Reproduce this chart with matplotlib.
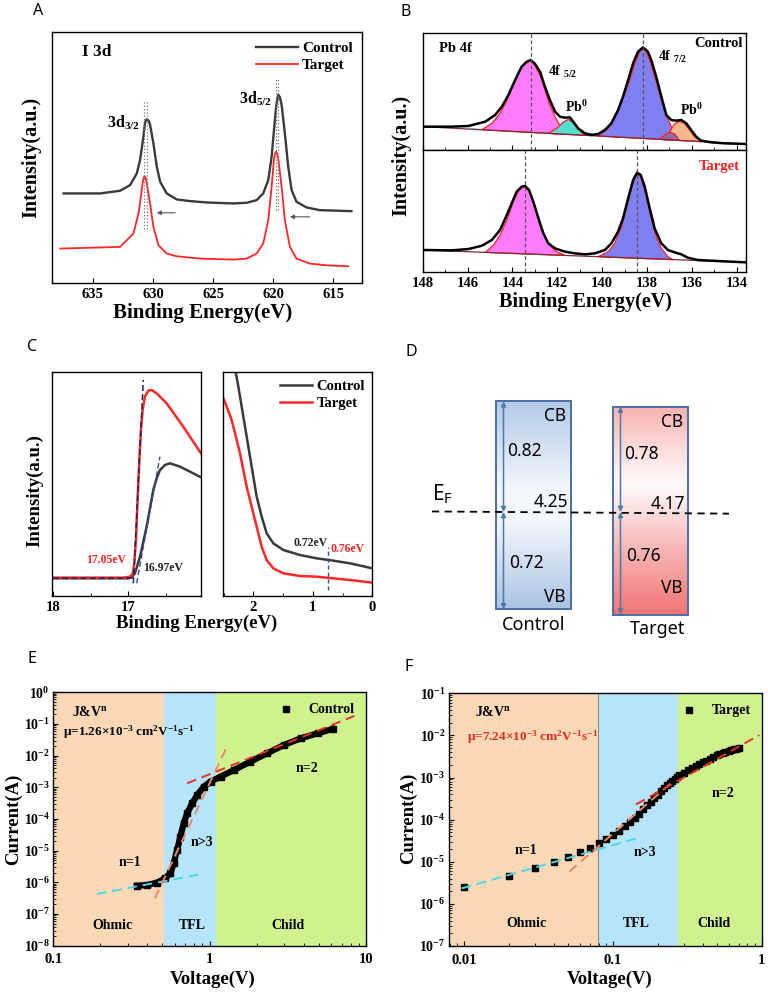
import numpy as np
import matplotlib
matplotlib.use("Agg")
import matplotlib.pyplot as plt
from matplotlib.colors import LinearSegmentedColormap
from matplotlib.patches import Rectangle
from matplotlib.ticker import NullFormatter, MultipleLocator, FixedLocator

# ---------------- A: I 3d XPS ----------------
a_ctrl_ev = [637.44, 634.39, 632.73, 631.90, 631.34, 631.07, 630.93, 630.79, 630.65, 630.51,
             630.37, 630.24, 629.96, 629.68, 629.40, 628.85, 628.02, 626.91, 625.53, 623.31,
             622.20, 621.37, 620.82, 620.40, 620.12, 619.85, 619.71, 619.57, 619.43, 619.29,
             619.02, 618.74, 618.46, 618.05, 617.22, 616.11, 613.48]
a_ctrl_int = [270, 270, 278, 295, 330, 370, 405, 440, 484, 492, 488, 476, 420, 350, 305, 270,
              252, 247, 243, 240, 242, 250, 270, 310, 380, 490, 540, 565, 558, 535, 450, 350,
              280, 245, 228, 220, 217]
a_tgt_ev = [637.71, 632.73, 631.62, 631.20, 630.93, 630.82, 630.71, 630.60, 630.51, 630.24,
            629.96, 629.54, 628.85, 628.02, 626.08, 623.31, 622.20, 621.37, 620.82, 620.40,
            620.12, 619.93, 619.85, 619.76, 619.68, 619.57, 619.29, 619.02, 618.60, 618.05,
            616.94, 615.55, 613.75]
a_tgt_int = [105, 110, 150, 210, 280, 310, 322, 316, 300, 240, 170, 115, 90, 82, 75, 72, 75,
             90, 120, 190, 290, 370, 388, 395, 390, 375, 290, 190, 110, 75, 60, 55, 52]
a_peak_ctrl = [630.51, 619.57]
a_peak_tgt = [630.71, 619.76]
a_mark_lo = [165, 220]
a_mark_hi = [550, 615]
a_shift_from = [628.16, 616.94]
a_shift_to = [629.68, 618.60]
a_shift_int = [212, 200]

# ---------------- B: Pb 4f XPS ----------------
b_ctrl_ev = [147.94, 146.70, 145.96, 145.21, 144.77, 144.47, 144.18, 143.88, 143.59, 143.36,
             143.19, 143.01, 142.77, 142.55, 142.33, 142.10, 141.88, 141.66, 141.44, 141.29,
             141.07, 140.77, 140.47, 140.18, 139.88, 139.59, 139.29, 139.07, 138.84, 138.62,
             138.40, 138.18, 137.96, 137.81, 137.59, 137.36, 137.14, 136.92, 136.70, 136.47,
             136.25, 136.03, 135.81, 135.59, 135.14, 134.55, 133.59]
b_ctrl_int = [70, 70, 72, 85, 105, 130, 165, 210, 250, 265, 270, 260, 235, 190, 150, 115, 100,
              97, 98, 85, 65, 50, 45, 48, 60, 80, 120, 160, 210, 260, 295, 308, 295, 270, 220,
              160, 105, 90, 88, 90, 80, 60, 40, 28, 23, 20, 18]
b_ctrl_bg_ev = [147.94, 133.59]
b_ctrl_bg_int = [70, 18]
b_ctrl_f52_ev = [145.36, 144.92, 144.55, 144.25, 143.96, 143.66, 143.44, 143.21, 143.01, 142.77,
                 142.55, 142.33, 142.10, 141.88, 141.59]
b_ctrl_f52_int = [61, 80, 110, 150, 195, 240, 260, 267, 255, 225, 180, 135, 100, 72, 47]
b_ctrl_pb1_ev = [142.40, 142.03, 141.73, 141.51, 141.29, 141.07, 140.77]
b_ctrl_pb1_int = [50, 65, 84, 92, 82, 63, 44]
b_ctrl_f72_ev = [140.18, 139.73, 139.36, 139.07, 138.77, 138.55, 138.33, 138.18, 138.03, 137.81,
                 137.59, 137.36, 137.14, 136.92, 136.62, 136.33]
b_ctrl_f72_int = [42, 65, 110, 155, 210, 258, 295, 304, 295, 255, 205, 150, 105, 70, 42, 28]
b_ctrl_sat_ev = [137.44, 137.21, 136.99, 136.77, 136.55]
b_ctrl_sat_int = [32, 45, 54, 48, 29]
b_ctrl_pb2_ev = [137.21, 136.99, 136.77, 136.55, 136.33, 136.10, 135.88, 135.59]
b_ctrl_pb2_int = [31, 55, 78, 86, 80, 60, 40, 25]
b_ctrl_band_ev = [145.96, 141.51, 137.81, 134.84, 134.84, 145.96]
b_ctrl_band_int = [65, 55, 40, 26, 22.5, 62.8]
b_ctrl_lines = [143.19, 138.18]

b_tgt_ev = [147.94, 146.70, 145.96, 145.36, 144.92, 144.55, 144.25, 144.03, 143.81, 143.59,
            143.44, 143.26, 143.07, 142.84, 142.62, 142.40, 142.10, 141.66, 141.21, 140.77,
            140.33, 139.88, 139.59, 139.29, 139.07, 138.84, 138.62, 138.44, 138.28, 138.10,
            137.88, 137.66, 137.36, 137.07, 136.77, 136.47, 136.18, 135.73, 134.84, 133.59]
b_tgt_int = [65, 64, 68, 78, 95, 125, 170, 205, 240, 255, 257, 245, 210, 160, 115, 85, 70, 60,
             55, 52, 55, 65, 85, 120, 160, 220, 275, 297, 290, 255, 190, 130, 85, 65, 58, 52,
             42, 35, 32, 28]
b_tgt_bg_ev = [147.94, 133.59]
b_tgt_bg_int = [65, 28]
b_tgt_f52_ev = [145.21, 144.84, 144.55, 144.25, 143.96, 143.73, 143.51, 143.36, 143.14, 142.92,
                142.70, 142.40, 142.03, 141.66]
b_tgt_f52_int = [58, 80, 110, 155, 210, 243, 255, 253, 225, 175, 125, 85, 60, 49]
b_tgt_f72_ev = [140.18, 139.73, 139.44, 139.14, 138.92, 138.70, 138.52, 138.40, 138.25, 138.03,
                137.81, 137.59, 137.36, 137.07, 136.84]
b_tgt_f72_int = [45, 60, 85, 135, 190, 250, 287, 293, 280, 225, 160, 105, 70, 45, 36]
b_tgt_lines = [143.44, 138.44]

# ---------------- C: UPS ----------------
c_cut_tgt_ev = [18.0, 17.067, 16.978, 16.942, 16.92, 16.898, 16.876, 16.853, 16.831, 16.809,
                16.778, 16.733, 16.689, 16.622, 16.489, 16.267, 16.031]
c_cut_tgt_int = [55, 55, 58, 66, 98, 168, 288, 408, 498, 558, 598, 616, 618, 608, 578, 508, 428]
c_cut_ctrl_ev = [18.0, 17.0, 16.956, 16.911, 16.844, 16.756, 16.711, 16.667, 16.622, 16.578,
                 16.511, 16.444, 16.311, 16.178, 16.031]
c_cut_ctrl_int = [53, 53, 56, 68, 118, 208, 263, 318, 353, 378, 393, 398, 388, 373, 356]
c_cut_base_ev = [18.0, 16.93]
c_cut_base_int = [53, 53]
c_tan_tgt_ev = [16.933, 16.80]
c_tan_tgt_int = [38, 648]
c_tan_ctrl_ev = [16.889, 16.578]
c_tan_ctrl_int = [38, 418]
c_vb_ctrl_ev = [2.303, 2.252, 2.168, 2.084, 2.0, 1.944, 1.860, 1.776, 1.664, 1.496, 1.216,
                0.936, 0.655, 0.375, 0.0]
c_vb_ctrl_int = [678, 628, 538, 448, 358, 298, 238, 188, 158, 138, 123, 113, 106, 98, 83]
c_vb_tgt_ev = [2.515, 2.448, 2.364, 2.308, 2.224, 2.112, 2.028, 1.944, 1.860, 1.776, 1.664,
               1.496, 1.216, 0.936, 0.655, 0.375, 0.0]
c_vb_tgt_int = [598, 568, 528, 488, 428, 328, 268, 208, 148, 108, 83, 68, 60, 58, 53, 48, 40]
c_vbm_mark = 0.74

# ---------------- D: energy levels ----------------
d_names = ["Control", "Target"]
d_cb = [0.82, 0.78]
d_vb = [0.72, 0.76]
d_ef = [4.25, 4.17]

# ---------------- E / F: SCLC ----------------
e_v = [0.343, 0.398, 0.461, 0.521, 0.561, 0.590, 0.620, 0.651, 0.684, 0.719, 0.774, 0.834,
       0.920, 1.015, 1.177, 1.43, 1.83, 2.34, 3.0, 3.84, 4.92, 6.14]
e_i = [7.85e-7, 8.2e-7, 9.8e-7, 1.34e-6, 1.92e-6, 3.98e-6, 1.05e-5, 2.77e-5, 7.3e-5, 1.51e-4,
       3.1e-4, 5.7e-4, 1.05e-3, 1.51e-3, 2.17e-3, 3.5e-3, 6.5e-3, 1.19e-2, 2.17e-2, 3.52e-2,
       5.07e-2, 6.95e-2]
e_fit_ohm = ([0.19, 0.875], [4.3e-7, 1.79e-6])
e_fit_tfl = ([0.446, 1.30], [3.1e-7, 2.02e-2])
e_fit_child = ([0.719, 8.45], [1.34e-3, 0.179])
e_bounds = [0.1, 0.514, 1.098, 10]

f_v = [0.01, 0.02, 0.03, 0.04, 0.05, 0.06, 0.07, 0.08, 0.09, 0.10, 0.11, 0.12, 0.13, 0.14,
       0.15, 0.16, 0.17, 0.18, 0.19, 0.20, 0.21, 0.22, 0.23, 0.24, 0.25, 0.26, 0.27, 0.28,
       0.30, 0.32, 0.34, 0.36, 0.38, 0.40, 0.42, 0.45, 0.47, 0.50, 0.52, 0.55, 0.57, 0.60,
       0.62, 0.65, 0.67, 0.70]
f_i = [2.56e-6, 4.58e-6, 6.97e-6, 9.7e-6, 1.27e-5, 1.70e-5, 2.16e-5, 2.74e-5, 3.47e-5, 4.4e-5,
       5.47e-5, 7.06e-5, 8.8e-5, 1.11e-4, 1.39e-4, 1.76e-4, 2.19e-4, 2.67e-4, 3.27e-4, 3.92e-4,
       4.70e-4, 5.54e-4, 6.53e-4, 7.41e-4, 8.43e-4, 9.4e-4, 1.03e-3, 1.13e-3, 1.31e-3, 1.48e-3,
       1.68e-3, 1.88e-3, 2.1e-3, 2.3e-3, 2.5e-3, 2.8e-3, 3.05e-3, 3.37e-3, 3.6e-3, 3.9e-3,
       4.1e-3, 4.35e-3, 4.5e-3, 4.76e-3, 4.85e-3, 5.0e-3]
f_fit_ohm = ([0.0096, 0.150], [2.33e-6, 3.73e-5])
f_fit_tfl = ([0.0508, 0.245], [5.8e-6, 7.3e-4])
f_fit_child = ([0.143, 0.964], [2.3e-4, 0.0102])
f_bounds = [0.0079, 0.0793, 0.272, 1.0]

region_names = ["Ohmic", "TFL", "Child"]
region_colors = ["#fbd8b6", "#b6e4f8", "#cff28f"]

DARK = "#3a3a3a"
RED = "#ff2626"

plt.rcParams["font.family"] = "Liberation Serif"
plt.rcParams["font.weight"] = "bold"
plt.rcParams["mathtext.default"] = "regular"
plt.rcParams["axes.linewidth"] = 1.0
plt.rcParams["xtick.direction"] = "in"
plt.rcParams["ytick.direction"] = "in"
plt.rcParams["xtick.major.size"] = 3.5
plt.rcParams["ytick.major.size"] = 3.5
plt.rcParams["xtick.minor.size"] = 2
plt.rcParams["ytick.minor.size"] = 2
plt.rcParams["xtick.labelsize"] = 10.5
plt.rcParams["ytick.labelsize"] = 10

W, H = 768, 992
fig = plt.figure(figsize=(W / 100, H / 100), dpi=100)


def add_ax(x0, y0, x1, y1):
    return fig.add_axes([x0 / W, 1 - y1 / H, (x1 - x0) / W, (y1 - y0) / H])


def ftext(x, y, s, **kw):
    return fig.text(x / W, 1 - y / H, s, **kw)


SANS = dict(family="Noto Sans", weight="normal")
for lab, x, y in [("A", 38, 11), ("B", 406, 12), ("C", 32, 347), ("D", 411, 352),
                  ("E", 32, 659), ("F", 409, 667)]:
    ftext(x, y, lab, ha="center", va="center", size=11.5, **SANS)

# ---------- A ----------
axA = add_ax(52, 32, 362, 283)
axA.plot(a_ctrl_ev, a_ctrl_int, color=DARK, lw=1.7, label="Control")
axA.plot(a_tgt_ev, a_tgt_int, color=RED, lw=1.3, label="Target")
for xc, xt, lo, hi in zip(a_peak_ctrl, a_peak_tgt, a_mark_lo, a_mark_hi):
    axA.plot([xc, xc], [lo, hi], color="#777777", ls=":", lw=0.9)
    axA.plot([xt, xt], [lo, hi], color="#777777", ls=":", lw=0.9)
for x0, x1, yy in zip(a_shift_from, a_shift_to, a_shift_int):
    axA.annotate("", xy=(x1, yy), xytext=(x0, yy),
                 arrowprops=dict(arrowstyle="-|>", color="#555555", lw=0.8,
                                 mutation_scale=6, shrinkA=0, shrinkB=0))
axA.set_xlim(638.4, 612.6)
axA.set_ylim(2, 753)
axA.set_yticks([])
axA.set_xticks([635, 630, 625, 620, 615])
axA.text(635.9, 692, "I 3d", size=12.5, va="center")
axA.text(632.45, 480, "3d$_{3/2}$", size=11.5, ha="center", va="center")
axA.text(621.43, 553, "3d$_{5/2}$", size=11.5, ha="center", va="center")
axA.legend(loc="upper right", frameon=False, fontsize=11, handlelength=2.7,
           borderaxespad=0.2, labelspacing=0.25, handletextpad=0.3)
ftext(203, 313, "Binding Energy(eV)", ha="center", va="center", size=15)
ftext(31, 157, "Intensity(a.u.)", ha="center", va="center", size=14.5, rotation=90)

# ---------- B ----------
axB1 = add_ax(422.7, 32.7, 745.7, 150)
axB2 = add_ax(422.7, 150, 745.7, 271.7)
axB1.fill(b_ctrl_band_ev, b_ctrl_band_int, fc="#3ecfdc", ec="none", zorder=1)
for xs, ys, c in [(b_ctrl_f52_ev, b_ctrl_f52_int, "#ff7cff"),
                  (b_ctrl_pb1_ev, b_ctrl_pb1_int, "#52e0d2"),
                  (b_ctrl_f72_ev, b_ctrl_f72_int, "#7f7ff2"),
                  (b_ctrl_pb2_ev, b_ctrl_pb2_int, "#f6b98e"),
                  (b_ctrl_sat_ev, b_ctrl_sat_int, "#8e6aa6")]:
    axB1.fill(xs, ys, fc=c, ec="#ff2020", lw=0.9, zorder=2)
axB1.plot(b_ctrl_bg_ev, b_ctrl_bg_int, color="#7a2a3a", lw=0.9, zorder=3)
axB1.plot(b_ctrl_ev, b_ctrl_int, color="k", lw=1.8, zorder=4)
for x in b_ctrl_lines:
    axB1.axvline(x, color="#555555", ls=(0, (3, 2)), lw=0.9, zorder=5)
for xs, ys, c in [(b_tgt_f52_ev, b_tgt_f52_int, "#ff7cff"),
                  (b_tgt_f72_ev, b_tgt_f72_int, "#7f7ff2")]:
    axB2.fill(xs, ys, fc=c, ec="#ff2020", lw=0.9, zorder=2)
axB2.plot(b_tgt_bg_ev, b_tgt_bg_int, color="#7a2a3a", lw=0.9, zorder=3)
axB2.plot(b_tgt_ev, b_tgt_int, color="k", lw=1.8, zorder=4)
for x in b_tgt_lines:
    axB2.axvline(x, color="#555555", ls=(0, (3, 2)), lw=0.9, zorder=5)
for ax, top in [(axB1, 352), (axB2, 365)]:
    ax.set_xlim(147.94, 133.6)
    ax.set_ylim(0, top)
    ax.set_yticks([])
    ax.set_xticks(np.arange(148, 133, -2))
    ax.xaxis.set_minor_locator(MultipleLocator(1))
axB1.tick_params(labelbottom=False)
axB1.text(147.29, 305, "Pb 4f", size=10.5, va="center")
axB1.text(133.75, 320, "Control", size=10.5, ha="right", va="center")
axB1.text(142.40, 235, "4f $_{5/2}$", size=10, va="center")
axB1.text(141.14, 130, "Pb$^{0}$", size=10, ha="center", va="center")
axB1.text(137.51, 280, "4f $_{7/2}$", size=10, va="center")
axB1.text(136.0, 120, "Pb$^{0}$", size=10, ha="center", va="center")
axB2.text(133.85, 315, "Target", size=10.5, ha="right", va="center", color="#ff2020")
ftext(585, 302, "Binding Energy(eV)", ha="center", va="center", size=14.5)
ftext(401, 155, "Intensity(a.u.)", ha="center", va="center", size=14.5, rotation=90)

# ---------- C ----------
axC1 = add_ax(52.3, 372.3, 201, 596)
axC2 = add_ax(222.7, 372.3, 372.3, 596)
axC1.plot(c_cut_base_ev, c_cut_base_int, color="#1e2460", ls=(0, (4, 2)), lw=1.1, zorder=4)
axC1.plot(c_cut_ctrl_ev, c_cut_ctrl_int, color=DARK, lw=1.8, zorder=2)
axC1.plot(c_cut_tgt_ev, c_cut_tgt_int, color=RED, lw=1.8, zorder=2)
axC1.plot(c_tan_tgt_ev, c_tan_tgt_int, color="#1e2460", ls=(0, (4, 2)), lw=1.1, zorder=4)
axC1.plot(c_tan_ctrl_ev, c_tan_ctrl_int, color="#3a4aa0", ls=(0, (4, 2)), lw=1.0, zorder=4)
axC1.set_xlim(18.013, 16.031)
axC1.set_xticks([18, 17])
axC1.xaxis.set_minor_locator(FixedLocator([17.5, 16.5]))
axC1.text(17.30, 108, "17.05eV", size=8.5, ha="center", va="center", color="#ff2020")
axC1.text(16.80, 83, "16.97eV", size=8.5, ha="left", va="center", color="#222222")

axC2.plot(c_vb_ctrl_ev, c_vb_ctrl_int, color=DARK, lw=1.8, label="Control")
axC2.plot(c_vb_tgt_ev, c_vb_tgt_int, color=RED, lw=1.8, label="Target")
axC2.plot([c_vbm_mark, c_vbm_mark], [18, 148], color="#3050a0", ls=(0, (3, 2)), lw=1.0)
axC2.set_xlim(2.515, 0)
axC2.set_xticks([2, 1, 0])
axC2.xaxis.set_minor_locator(FixedLocator([2.5, 1.5, 0.5]))
axC2.text(1.036, 160, "0.72eV", size=8.5, ha="center", va="center", color="#222222")
axC2.text(0.42, 140, "0.76eV", size=8.5, ha="center", va="center", color="#ff2020")
axC2.legend(loc="upper right", frameon=False, fontsize=10.5, handlelength=2.2,
            borderaxespad=0.1, labelspacing=0.25, handletextpad=0.3)
for ax in (axC1, axC2):
    ax.set_ylim(0, 671)
    ax.set_yticks([])
ftext(197, 623, "Binding Energy(eV)", ha="center", va="center", size=13.5)
ftext(35, 491, "Intensity(a.u.)", ha="center", va="center", size=13.5, rotation=90)

# ---------- D ----------
axD = add_ax(384, 320, 768, 640)
k_scale = 135.0
ef_py = 512
box_left = [112, 229]
box_w = 75
grads = [
    [(0.0, "#a9c3e4"), (0.43, "#f4f8fd"), (0.57, "#f4f8fd"), (1.0, "#b2cae8")],
    [(0.0, "#f27373"), (0.45, "#fbd3d3"), (0.62, "#fffafa"), (0.68, "#fff4f4"), (1.0, "#f8b3b0")],
]
cb_lab_y = [-0.11, -0.11]
vb_lab_y = [0.09, 0.20]
val_top_y = [0.45, 0.43]
val_bot_y = [-0.375, -0.326]
ef_lab_y = [0.075, 0.06]
name_y = [-0.84, -0.87]
name_x = [150, 274]
for i in range(2):
    x0 = box_left[i]
    x1 = x0 + box_w
    cmap = LinearSegmentedColormap.from_list("g%d" % i, grads[i])
    axD.imshow(np.linspace(0, 1, 256).reshape(-1, 1), extent=(x0, x1, -d_vb[i], d_cb[i]),
               origin="lower", aspect="auto", cmap=cmap, zorder=1)
    axD.add_patch(Rectangle((x0, -d_vb[i]), box_w, d_cb[i] + d_vb[i], fill=False,
                            ec="#4a6fa5", lw=1.4, zorder=3))
    xa = x0 + 7.5
    arrow = dict(arrowstyle="<|-|>", color="#4f79a8", lw=1.1, mutation_scale=7,
                 shrinkA=0, shrinkB=0)
    axD.annotate("", xy=(xa, d_cb[i]), xytext=(xa, 0), arrowprops=arrow, zorder=4)
    axD.annotate("", xy=(xa, -d_vb[i]), xytext=(xa, 0), arrowprops=arrow, zorder=4)
    axD.text(x1 - 5, d_cb[i] + cb_lab_y[i], "CB", ha="right", va="center", size=12.5, **SANS)
    axD.text(x1 - 5, -d_vb[i] + vb_lab_y[i], "VB", ha="right", va="center", size=12.5, **SANS)
    axD.text(x0 + 11, val_top_y[i], "%.2f" % d_cb[i], ha="left", va="center", size=12.5, **SANS)
    axD.text(x0 + 13, val_bot_y[i], "%.2f" % d_vb[i], ha="left", va="center", size=12.5, **SANS)
    axD.text(x1 - 3, ef_lab_y[i], "%.2f" % d_ef[i], ha="right", va="center", size=12.5,
             zorder=5, **SANS)
    axD.text(name_x[i], name_y[i], d_names[i], ha="center", va="center", size=13, **SANS)
axD.plot([48, 345], [0.004, -0.012], color="k", ls=(0, (4, 3)), lw=1.3, zorder=4)
axD.text(48, 0.135, "E$_{F}$", ha="left", va="center", size=15, **SANS)
axD.set_xlim(0, 384)
axD.set_ylim((ef_py - 640) / k_scale, (ef_py - 320) / k_scale)
axD.axis("off")

# ---------- E / F ----------
axE = add_ax(53.3, 692.3, 365.7, 945.7)
axF = add_ax(449, 693.3, 761.7, 946)
fit_colors = ["#4dd6ea", "#f08868", "#e8302a"]

for ax, v, i, fits, bounds, name, xlim, ylim, xt, xtl, ms, lw in [
        (axE, e_v, e_i, [e_fit_ohm, e_fit_tfl, e_fit_child], e_bounds, "Control",
         (0.1, 10), (1e-8, 1), [0.1, 1, 10], ["0.1", "1", "10"], 5, 4.5),
        (axF, f_v, f_i, [f_fit_ohm, f_fit_tfl, f_fit_child], f_bounds, "Target",
         (0.0079, 1.0), (1e-7, 1e-1), [0.01, 0.1, 1], ["0.01", "0.1", "1"], 4.3, 0)]:
    for lo, hi, c in zip(bounds[:-1], bounds[1:], region_colors):
        ax.axvspan(lo, hi, color=c, lw=0, zorder=0)
    ax.set_xscale("log")
    ax.set_yscale("log")
    if lw > 0:
        ax.plot(v, i, color="k", lw=lw, zorder=3)
    ax.plot(v, i, "s", color="k", ms=ms, zorder=3, label=name)
    for (fx, fy), c in zip(fits, fit_colors):
        ax.plot(fx, fy, color=c, ls=(0, (5, 3)), lw=1.4, zorder=4)
    ax.set_xlim(*xlim)
    ax.set_ylim(*ylim)
    lo, hi = int(np.log10(ylim[0])), int(np.log10(ylim[1]))
    ax.set_yticks([10.0 ** p for p in range(lo, hi + 1)])
    ax.set_xticks(xt, labels=xtl)
    ax.xaxis.set_minor_formatter(NullFormatter())
    ax.yaxis.set_minor_formatter(NullFormatter())
    ax.tick_params(axis="y", pad=2.5)
    ax.tick_params(axis="x", pad=5.5)
    ax.legend(loc="upper right", frameon=False, fontsize=10, handlelength=1.2,
              handletextpad=1.0, borderaxespad=0.4, markerscale=1.0)

axF.axvline(f_bounds[1], color="#8a8a8a", lw=0.8, zorder=1)

mu_e = "μ=1.26×10$^{-3}$ cm$^{2}$V$^{-1}$s$^{-1}$"
mu_f = "μ=7.24×10$^{-3}$ cm$^{2}$V$^{-1}$s$^{-1}$"
axE.text(0.131, 0.245, "J&V$^{n}$", size=10, va="center")
axE.text(0.116, 0.057, mu_e, size=9.5, va="center")
axE.text(0.31, 4.2e-6, "n=1", size=10, ha="center", va="center")
axE.text(0.897, 1.83e-5, "n>3", size=10, ha="center", va="center")
axE.text(4.24, 4.0e-3, "n=2", size=10, ha="center", va="center")
for nm, x in zip(region_names, [0.240, 0.78, 3.18]):
    axE.text(x, 4.5e-8, nm, size=10, ha="center", va="center")

axF.text(0.0118, 0.0367, "J&V$^{n}$", size=10, va="center")
axF.text(0.0104, 9.0e-3, mu_f, size=9.5, va="center", color="#e8281e")
axF.text(0.026, 1.9e-5, "n=1", size=10, ha="center", va="center")
axF.text(0.164, 1.67e-5, "n>3", size=10, ha="center", va="center")
axF.text(0.547, 4.2e-4, "n=2", size=10, ha="center", va="center")
for nm, x in zip(region_names, [0.0263, 0.144, 0.475]):
    axF.text(x, 3.44e-7, nm, size=10, ha="center", va="center")

ftext(213, 979, "Voltage(V)", ha="center", va="center", size=13.5)
ftext(13, 819, "Current(A)", ha="center", va="center", size=13.5, rotation=90)
ftext(610, 979, "Voltage(V)", ha="center", va="center", size=13.5)
ftext(408, 818, "Current(A)", ha="center", va="center", size=13.5, rotation=90)

fig.savefig("out.png", dpi=100)
